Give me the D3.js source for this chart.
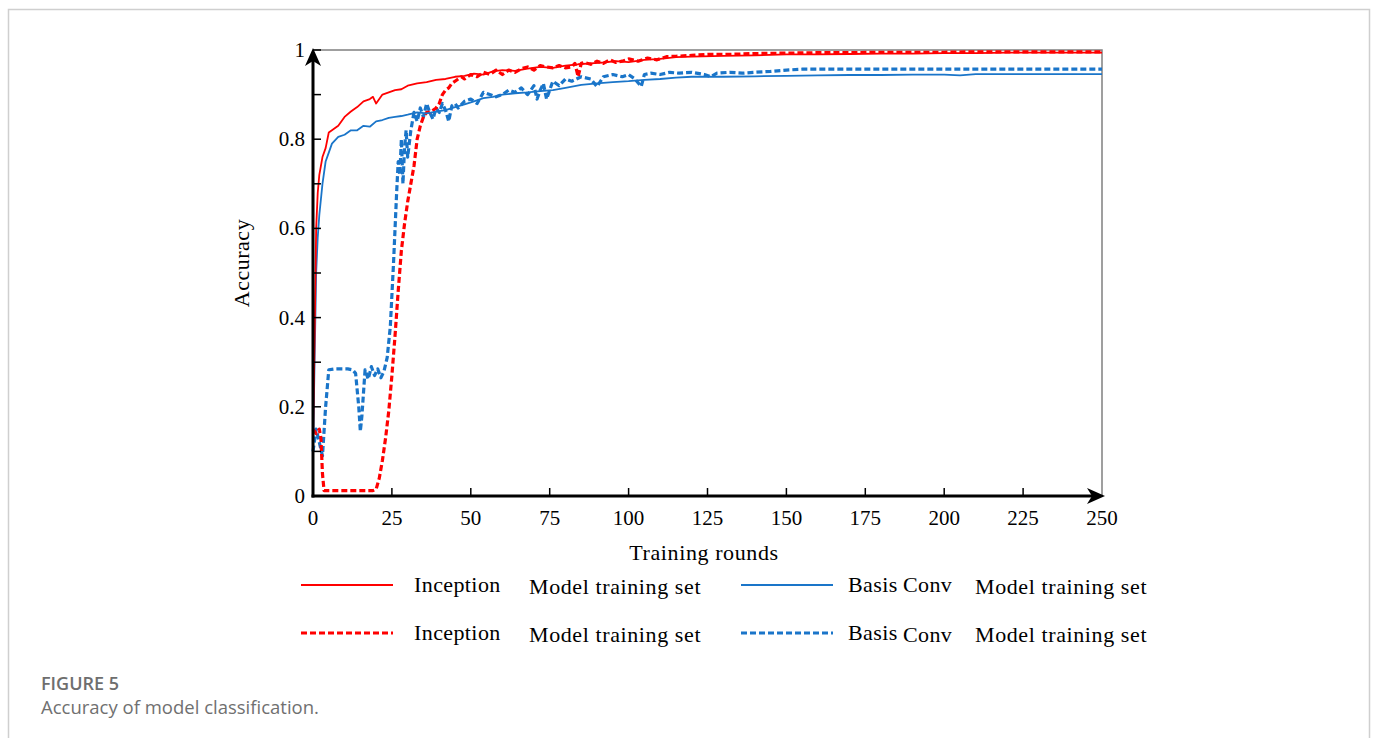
<!DOCTYPE html>
<html>
<head>
<meta charset="utf-8">
<script src="https://cdnjs.cloudflare.com/ajax/libs/d3/7.8.5/d3.min.js"></script>
<style>
    body { margin: 0; background: #fff; }
    svg { display: block; }
</style>
</head>
<body>
<svg id="chart"></svg>
<script>
// [round, accuracy]
let inceptionTrain = [[0,0.12],[0.5,0.35],[1,0.6],[1.5,0.68],[2,0.72],[3,0.76],[4,0.78],[5,0.815],[6,0.82],[8,0.83],[10,0.85],[12,0.862],[14,0.872],[16,0.885],[18,0.89],[19,0.895],[20,0.88],[21,0.89],[22,0.9],[24,0.905],[26,0.91],[28,0.912],[30,0.92],[33,0.925],[36,0.928],[39,0.933],[42,0.935],[45,0.94],[48,0.942],[51,0.947],[54,0.945],[57,0.952],[60,0.955],[64,0.953],[68,0.958],[72,0.962],[76,0.96],[80,0.965],[84,0.968],[88,0.97],[92,0.972],[96,0.975],[100,0.973],[105,0.978],[110,0.98],[115,0.984],[120,0.985],[130,0.987],[140,0.988],[150,0.99],[160,0.99],[170,0.991],[180,0.992],[190,0.992],[200,0.993],[210,0.993],[220,0.994],[230,0.994],[240,0.994],[250,0.994]]

let inceptionVal = [[0,0.15],[1,0.14],[2,0.15],[2.5,0.13],[3,0.05],[3.5,0.012],[5,0.012],[8,0.012],[12,0.012],[16,0.012],[19,0.012],[20,0.015],[21,0.04],[22,0.08],[23,0.13],[24,0.19],[25,0.27],[26,0.36],[27,0.46],[28,0.55],[29,0.61],[30,0.66],[31,0.7],[32,0.74],[33,0.8],[34,0.83],[35,0.85],[36,0.86],[37,0.86],[38,0.865],[39,0.87],[40,0.88],[41,0.9],[42,0.91],[43,0.915],[44,0.925],[45,0.93],[46,0.935],[47,0.94],[48,0.935],[50,0.945],[52,0.94],[54,0.95],[56,0.945],[58,0.955],[60,0.945],[62,0.955],[64,0.95],[66,0.958],[68,0.962],[70,0.955],[72,0.965],[74,0.962],[76,0.96],[78,0.965],[80,0.96],[82,0.962],[83,0.97],[84,0.94],[85,0.97],[86,0.972],[88,0.968],[90,0.975],[92,0.97],[94,0.978],[96,0.972],[98,0.975],[100,0.98],[103,0.975],[106,0.982],[109,0.978],[112,0.985],[115,0.986],[120,0.988],[125,0.99],[130,0.99],[140,0.992],[150,0.993],[160,0.994],[170,0.994],[180,0.995],[190,0.995],[200,0.995],[210,0.996],[220,0.996],[230,0.996],[240,0.996],[250,0.996]]

let convTrain = [[0,0.1],[0.5,0.3],[1,0.5],[1.5,0.58],[2,0.63],[3,0.7],[4,0.75],[5,0.77],[6,0.79],[8,0.805],[10,0.81],[12,0.82],[14,0.82],[16,0.83],[18,0.828],[20,0.84],[22,0.843],[24,0.848],[26,0.85],[28,0.852],[30,0.855],[33,0.86],[36,0.858],[39,0.862],[42,0.865],[45,0.872],[48,0.878],[51,0.885],[54,0.892],[57,0.895],[60,0.9],[64,0.903],[68,0.905],[72,0.908],[76,0.91],[80,0.915],[85,0.922],[90,0.925],[95,0.928],[100,0.93],[105,0.933],[110,0.935],[115,0.938],[120,0.94],[130,0.94],[140,0.941],[150,0.942],[160,0.943],[170,0.944],[180,0.944],[190,0.945],[200,0.945],[205,0.943],[210,0.946],[220,0.946],[230,0.946],[240,0.946],[250,0.946]]

let convVal = [[0,0.1],[1,0.15],[2,0.12],[3,0.09],[4,0.2],[5,0.283],[7,0.285],[9,0.285],[11,0.285],[12.5,0.283],[13.5,0.275],[14.5,0.2],[15,0.145],[15.5,0.18],[16.5,0.283],[17.5,0.262],[18.5,0.29],[19.5,0.27],[20.5,0.285],[21.5,0.265],[22.5,0.28],[23.5,0.31],[24.5,0.38],[25.5,0.52],[26.5,0.68],[27,0.75],[27.5,0.72],[28,0.8],[28.5,0.7],[29,0.78],[29.5,0.82],[30,0.76],[31,0.82],[32,0.86],[33,0.84],[34,0.87],[35,0.85],[36,0.88],[37,0.86],[38,0.845],[39,0.87],[40,0.86],[41,0.88],[42,0.865],[43,0.84],[44,0.875],[45,0.88],[46,0.87],[48,0.885],[50,0.89],[52,0.88],[54,0.905],[56,0.9],[58,0.895],[60,0.9],[62,0.91],[64,0.905],[66,0.915],[68,0.9],[70,0.92],[71,0.89],[72,0.91],[73,0.925],[74,0.89],[76,0.93],[78,0.92],[80,0.935],[82,0.93],[85,0.94],[88,0.935],[90,0.918],[92,0.94],[95,0.945],[98,0.94],[100,0.945],[102,0.935],[104,0.918],[105,0.945],[107,0.948],[110,0.945],[113,0.95],[116,0.948],[120,0.95],[124,0.945],[126,0.94],[128,0.948],[132,0.95],[136,0.948],[140,0.95],[145,0.952],[150,0.955],[155,0.957],[160,0.957],[170,0.957],[180,0.957],[190,0.957],[200,0.957],[210,0.957],[220,0.957],[230,0.957],[240,0.957],[250,0.957]]

let xTicks = [0, 25, 50, 75, 100, 125, 150, 175, 200, 225, 250]
let yTicks = [0, 0.2, 0.4, 0.6, 0.8, 1]
let yMinorTicks = [0.1, 0.3, 0.5, 0.7, 0.9]

let legendRows = [
    {data: inceptionTrain, color: '#ff0000', dashed: false, name: ['Inception'], label: 'Model training set', col: 0, row: 0},
    {data: convTrain, color: '#1a75c9', dashed: false, name: ['Basis', 'Conv'], label: 'Model training set', col: 1, row: 0},
    {data: inceptionVal, color: '#ff0000', dashed: true, name: ['Inception'], label: 'Model training set', col: 0, row: 1},
    {data: convVal, color: '#1a75c9', dashed: true, name: ['Basis', 'Conv'], label: 'Model training set', col: 1, row: 1}
]

let width = 1375,
    height = 738,
    plotLeft = 313,
    plotRight = 1102,
    plotTop = 50,
    plotBottom = 496,
    serif = '"Liberation Serif", "DejaVu Serif", serif'

let $svg = d3.select('#chart')
    .attr('width', width)
    .attr('height', height)

// card frame
$svg.append('path')
    .attr('d', 'M8.5,' + (height + 5) + 'V9.5H1369.5V' + (height + 5))
    .attr('fill', 'none')
    .attr('stroke', '#cfcfcf')
    .attr('stroke-width', 1.5)

let xScale = d3.scaleLinear().domain([0, 250]).range([plotLeft, plotRight])
let yScale = d3.scaleLinear().domain([0, 1]).range([plotBottom, plotTop])

// grey box edges
$svg.append('path')
    .attr('d', 'M' + plotLeft + ',' + plotTop + 'H' + plotRight + 'V' + plotBottom)
    .attr('fill', 'none')
    .attr('stroke', '#808080')
    .attr('stroke-width', 1.5)

let lineFunction = d3.line()
    .x(d => xScale(d[0]))
    .y(d => yScale(d[1]))

let drawOrder = [convVal, inceptionVal, convTrain, inceptionTrain]
drawOrder.forEach(series => {
    let cfg = legendRows.find(r => r.data === series)
    $svg.append('path')
        .attr('d', lineFunction(series))
        .attr('fill', 'none')
        .attr('stroke', cfg.color)
        .attr('stroke-width', cfg.dashed ? 3.2 : 1.8)
        .attr('stroke-dasharray', cfg.dashed ? '6,3' : null)
        .attr('stroke-linejoin', 'round')
})

// axes
let $axes = $svg.append('g')
$axes.append('line')
    .attr('x1', plotLeft).attr('y1', plotBottom + 1.5)
    .attr('x2', plotLeft).attr('y2', plotTop + 10)
    .attr('stroke', '#000').attr('stroke-width', 3)
$axes.append('line')
    .attr('x1', plotLeft - 1.5).attr('y1', plotBottom)
    .attr('x2', plotRight - 10).attr('y2', plotBottom)
    .attr('stroke', '#000').attr('stroke-width', 3)

// arrow heads
$axes.append('path')
    .attr('d', 'M' + plotLeft + ',' + (plotTop - 2) + 'L' + (plotLeft + 8) + ',' + (plotTop + 16) +
        'L' + plotLeft + ',' + (plotTop + 11) + 'L' + (plotLeft - 8) + ',' + (plotTop + 16) + 'Z')
    .attr('fill', '#000')
$axes.append('path')
    .attr('d', 'M' + (plotRight + 3) + ',' + plotBottom + 'L' + (plotRight - 15) + ',' + (plotBottom - 8) +
        'L' + (plotRight - 10) + ',' + plotBottom + 'L' + (plotRight - 15) + ',' + (plotBottom + 8) + 'Z')
    .attr('fill', '#000')

// ticks
$axes.selectAll('line.ytick')
    .data(yTicks.concat(yMinorTicks))
    .enter().append('line')
    .attr('class', 'ytick')
    .attr('x1', plotLeft).attr('x2', plotLeft + 8)
    .attr('y1', d => yScale(d)).attr('y2', d => yScale(d))
    .attr('stroke', '#000').attr('stroke-width', 1.5)

$axes.selectAll('line.xtick')
    .data(xTicks.slice(1, -1))
    .enter().append('line')
    .attr('class', 'xtick')
    .attr('x1', d => xScale(d)).attr('x2', d => xScale(d))
    .attr('y1', plotBottom).attr('y2', plotBottom - 8)
    .attr('stroke', '#000').attr('stroke-width', 1.5)

$axes.selectAll('text.ylab')
    .data(yTicks)
    .enter().append('text')
    .attr('class', 'ylab')
    .attr('x', plotLeft - 8)
    .attr('y', d => yScale(d) + 7)
    .attr('text-anchor', 'end')
    .attr('font-family', serif)
    .attr('font-size', 21)
    .text(d => d)

$axes.selectAll('text.xlab')
    .data(xTicks)
    .enter().append('text')
    .attr('class', 'xlab')
    .attr('x', d => xScale(d))
    .attr('y', plotBottom + 29)
    .attr('text-anchor', 'middle')
    .attr('font-family', serif)
    .attr('font-size', 21)
    .text(d => d)

$svg.append('text')
    .attr('transform', 'translate(249,263) rotate(-90)')
    .attr('text-anchor', 'middle')
    .attr('font-family', serif)
    .attr('font-size', 22)
    .attr('letter-spacing', 0.5)
    .text('Accuracy')

$svg.append('text')
    .attr('x', 704)
    .attr('y', 560)
    .attr('text-anchor', 'middle')
    .attr('font-family', serif)
    .attr('font-size', 22)
    .attr('letter-spacing', 0.6)
    .text('Training rounds')

// legend
let colX = [
    {line: [301, 393], name: [414], label: 529},
    {line: [741, 833], name: [848, 903], label: 975}
]
let rowY = [585, 633]

legendRows.forEach(r => {
    let c = colX[r.col], y = rowY[r.row]
    $svg.append('line')
        .attr('x1', c.line[0]).attr('x2', c.line[1])
        .attr('y1', y).attr('y2', y)
        .attr('stroke', r.color)
        .attr('stroke-width', r.dashed ? 3.2 : 1.8)
        .attr('stroke-dasharray', r.dashed ? '6,3' : null)
    r.name.forEach((n, i) => {
        $svg.append('text')
            .attr('x', c.name[i])
            .attr('y', y + 7 + (r.row === 1 && i === 1 ? 2 : 0))
            .attr('font-family', serif)
            .attr('font-size', 22)
            .attr('letter-spacing', 0.4)
            .text(n)
    })
    $svg.append('text')
        .attr('x', c.label)
        .attr('y', y + 9)
        .attr('font-family', serif)
        .attr('font-size', 22)
        .attr('letter-spacing', 0.6)
        .text(r.label)
})

// caption
$svg.append('text')
    .attr('x', 41).attr('y', 690)
    .attr('font-family', '"Open Sans", sans-serif')
    .attr('font-weight', 600)
    .attr('font-size', 18)
    .attr('fill', '#6e6e6e')
    .text('FIGURE 5')
$svg.append('text')
    .attr('x', 41).attr('y', 714)
    .attr('font-family', '"Open Sans", sans-serif')
    .attr('font-size', 18.5)
    .attr('fill', '#707070')
    .text('Accuracy of model classification.')
</script>
</body>
</html>
